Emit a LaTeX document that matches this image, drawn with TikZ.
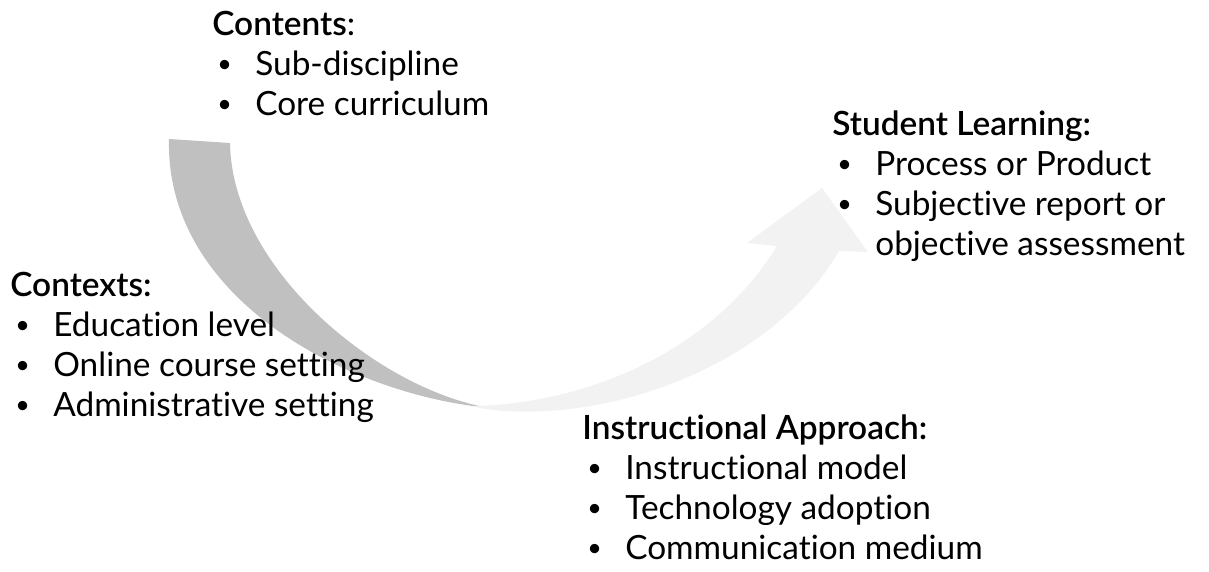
\documentclass[tikz,border=0pt]{standalone}
\usepackage{fontspec}
\setmainfont{Lato}[Ligatures=NoCommon,BoldFont={Lato Semibold}]
\usepackage{xcolor}
\definecolor{arrowgray}{RGB}{192,192,192}
\definecolor{arrowlight}{RGB}{242,242,242}
\usepackage{tikz}
\usetikzlibrary{positioning}
\newcommand{\listbullet}{\hspace*{0.1cm}\makebox[0.76cm][l]{\raisebox{0.1em}{\scalebox{0.75}{\textbullet}}}}
\newcommand{\listindent}{\hspace*{0.86cm}}
\tikzset{
  listtext/.style={anchor=north west,align=left,inner sep=0pt,
    font=\fontsize{19}{22.8}\selectfont,text=black},
  bandgray/.style={fill=arrowgray,draw=none},
  bandlight/.style={fill=arrowlight,draw=none},
}

\begin{document}
\begin{tikzpicture}[x=0.02cm,y=-0.02cm]
  \useasboundingbox (0,0) rectangle (1209,571);
  % curved arrow, dark tail then light head
  \fill[bandgray] (169,139) -- (230,143)
    .. controls (232,270) and (380,390) .. (490,408)
    .. controls (350,395) and (165,300) .. (169,139) -- cycle;
  \fill[bandlight] (470,406)
    .. controls (580,405) and (710,355) .. (777,246)
    -- (747,243) -- (822,188) -- (868,252) -- (839,251)
    .. controls (770,370) and (600,425) .. (485,409) -- cycle;

  \node[listtext] (contents) at (212,7)
    {\strut\textbf{Contents}:\\
     \listbullet Sub-discipline\\
     \listbullet Core curriculum};
  \node[listtext] (learning) at (832,107)
    {\strut\textbf{Student Learning:}\\
     \listbullet Process or Product\\
     \listbullet Subjective report or\\
     \listindent objective assessment};
  \node[listtext] (contexts) at (10,268)
    {\strut\textbf{Contexts:}\\
     \listbullet Education level\\
     \listbullet Online course setting\\
     \listbullet Administrative setting};
  \node[listtext] (approach) at (582,411)
    {\strut\textbf{Instructional Approach:}\\
     \listbullet Instructional model\\
     \listbullet Technology adoption\\
     \listbullet Communication medium};
\end{tikzpicture}
\end{document}
